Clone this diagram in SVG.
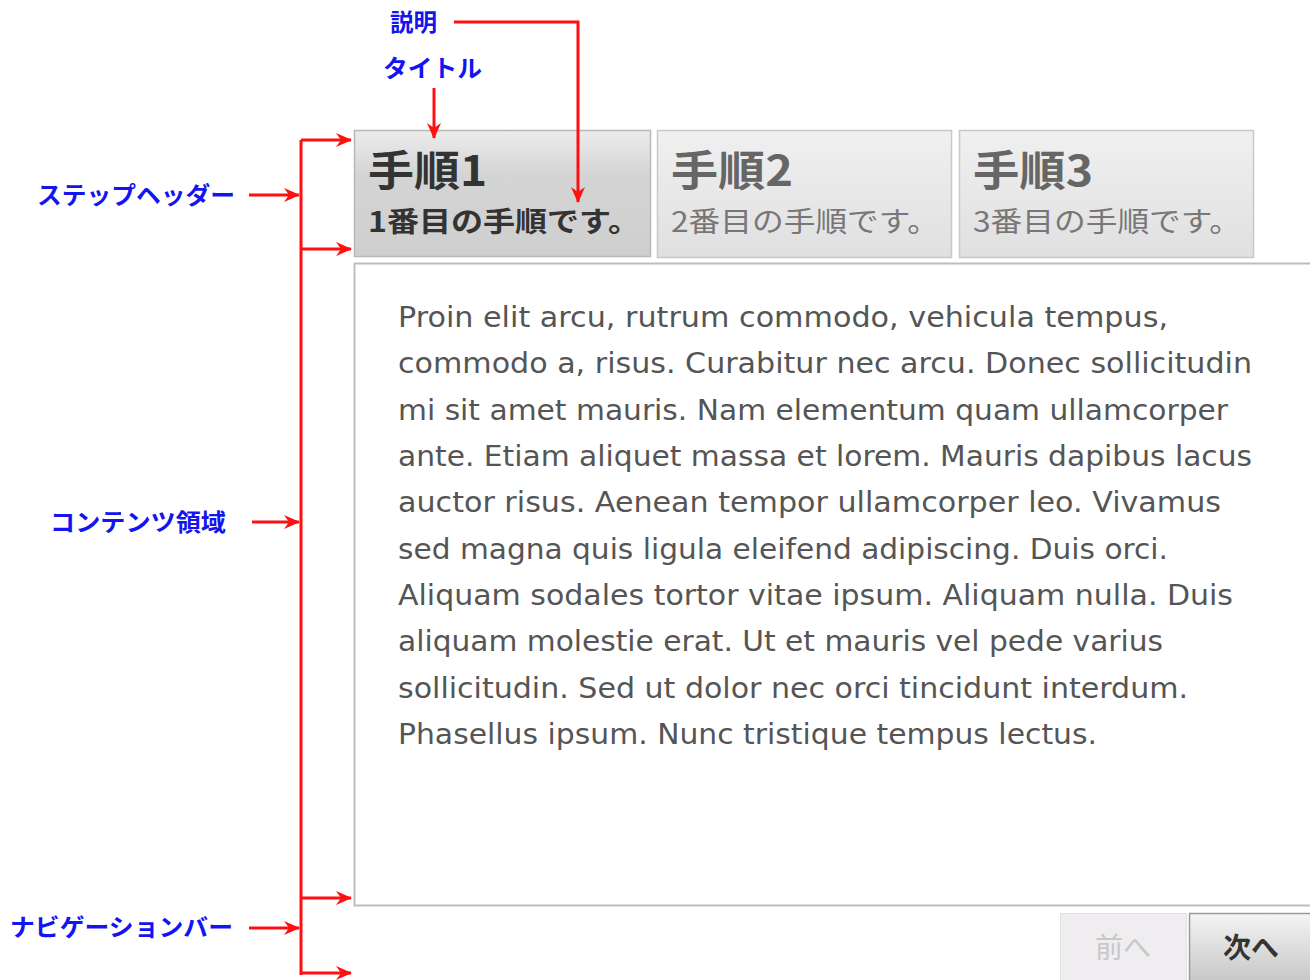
<svg xmlns="http://www.w3.org/2000/svg" width="1310" height="980" viewBox="0 0 1310 980">
<style>
.lbl{font-family:"Noto Sans CJK JP","Liberation Sans",sans-serif;font-weight:bold;fill:#1414f0;font-size:24px}
.con{stroke:#ff1010;stroke-width:3;fill:none}
.body{font-family:"DejaVu Sans","Liberation Sans",sans-serif;font-size:28px;fill:#555}
.tt{font-family:"Noto Sans CJK JP",sans-serif;font-weight:bold;font-size:42px}
.ts{font-family:"Noto Sans CJK JP",sans-serif;font-size:28px}
.btn{font-family:"Noto Sans CJK JP",sans-serif;font-size:28px;text-anchor:middle}
</style>
<defs>
<marker id="ah" viewBox="0 0 16 14" refX="15" refY="7" markerWidth="16" markerHeight="14" markerUnits="userSpaceOnUse" orient="auto">
<path d="M0,0 L16,7 L0,14 L5,7 Z" fill="#ff1010"/>
</marker>
<linearGradient id="g1" x1="0" y1="0" x2="0" y2="1"><stop offset="0" stop-color="#ececec"/><stop offset="0.35" stop-color="#d4d4d4"/><stop offset="1" stop-color="#cfcfcf"/></linearGradient>
<linearGradient id="g2" x1="0" y1="0" x2="0" y2="1"><stop offset="0" stop-color="#f0f0f0"/><stop offset="1" stop-color="#e0e0e0"/></linearGradient>
<linearGradient id="g3" x1="0" y1="0" x2="0" y2="1"><stop offset="0" stop-color="#f4f4f4"/><stop offset="1" stop-color="#c6c6c6"/></linearGradient>
</defs>

<g id="tab1">
<rect x="354.5" y="130.5" width="296" height="126" fill="url(#g1)" stroke="#b8b8b8" stroke-width="1.5"/>
<text x="368" y="186" class="tt" fill="#333" textLength="119" lengthAdjust="spacingAndGlyphs">手順1</text>
<text x="368" y="232" class="ts" fill="#333" font-weight="bold" textLength="272" lengthAdjust="spacingAndGlyphs">1番目の手順です。</text>
</g>
<g id="tab2">
<rect x="657.5" y="130.5" width="294" height="127" fill="url(#g2)" stroke="#c8c8c8" stroke-width="1.5"/>
<text x="671" y="186" class="tt" fill="#666" textLength="122" lengthAdjust="spacingAndGlyphs">手順2</text>
<text x="671" y="232" class="ts" fill="#777" textLength="268" lengthAdjust="spacingAndGlyphs">2番目の手順です。</text>
</g>
<g id="tab3">
<rect x="959.5" y="130.5" width="294" height="127" fill="url(#g2)" stroke="#c8c8c8" stroke-width="1.5"/>
<text x="973" y="186" class="tt" fill="#666" textLength="120" lengthAdjust="spacingAndGlyphs">手順3</text>
<text x="973" y="232" class="ts" fill="#777" textLength="268" lengthAdjust="spacingAndGlyphs">3番目の手順です。</text>
</g>

<g id="content">
<rect x="354.5" y="263.5" width="970" height="642" fill="#fff" stroke="#bdbdbd" stroke-width="2"/>
<g class="body">
<text x="398" y="327" textLength="770" lengthAdjust="spacingAndGlyphs">Proin elit arcu, rutrum commodo, vehicula tempus,</text>
<text x="398" y="373" textLength="854" lengthAdjust="spacingAndGlyphs">commodo a, risus. Curabitur nec arcu. Donec sollicitudin</text>
<text x="398" y="420" textLength="830" lengthAdjust="spacingAndGlyphs">mi sit amet mauris. Nam elementum quam ullamcorper</text>
<text x="398" y="466" textLength="854" lengthAdjust="spacingAndGlyphs">ante. Etiam aliquet massa et lorem. Mauris dapibus lacus</text>
<text x="398" y="512" textLength="823" lengthAdjust="spacingAndGlyphs">auctor risus. Aenean tempor ullamcorper leo. Vivamus</text>
<text x="398" y="559" textLength="770" lengthAdjust="spacingAndGlyphs">sed magna quis ligula eleifend adipiscing. Duis orci.</text>
<text x="398" y="605" textLength="835" lengthAdjust="spacingAndGlyphs">Aliquam sodales tortor vitae ipsum. Aliquam nulla. Duis</text>
<text x="398" y="651" textLength="765" lengthAdjust="spacingAndGlyphs">aliquam molestie erat. Ut et mauris vel pede varius</text>
<text x="398" y="698" textLength="790" lengthAdjust="spacingAndGlyphs">sollicitudin. Sed ut dolor nec orci tincidunt interdum.</text>
<text x="398" y="744" textLength="699" lengthAdjust="spacingAndGlyphs">Phasellus ipsum. Nunc tristique tempus lectus.</text>
</g>
</g>

<g id="btn-prev">
<rect x="1060.5" y="913.5" width="126" height="70" fill="#efedef" stroke="#e2e0e2"/>
<text x="1123" y="958" class="btn" fill="#c8c8c8">前へ</text>
</g>
<g id="btn-next">
<rect x="1189.5" y="913.5" width="130" height="70" fill="url(#g3)" stroke="#9a9a9a" stroke-width="1.5"/>
<text x="1251" y="958" class="btn" fill="#333" font-weight="bold">次へ</text>
</g>

<g id="label-desc"><text x="390" y="31" class="lbl" font-size="22" textLength="47" lengthAdjust="spacingAndGlyphs">説明</text></g>
<g id="label-title"><text x="383" y="77" class="lbl" textLength="99" lengthAdjust="spacingAndGlyphs">タイトル</text></g>
<g id="label-header"><text x="37" y="204" class="lbl" textLength="198" lengthAdjust="spacingAndGlyphs">ステップヘッダー</text></g>
<g id="label-content"><text x="50" y="531" class="lbl" textLength="176" lengthAdjust="spacingAndGlyphs">コンテンツ領域</text></g>
<g id="label-nav"><text x="10" y="936" class="lbl" font-weight="normal" textLength="223" lengthAdjust="spacingAndGlyphs">ナビゲーションバー</text></g>

<g id="connectors">
<path class="con" d="M454,22 H578 V202" marker-end="url(#ah)"/>
<path class="con" d="M434,88 V138" marker-end="url(#ah)"/>
<path class="con" d="M301,140 V975"/>
<path class="con" d="M301,140 H351" marker-end="url(#ah)"/>
<path class="con" d="M301,249 H351" marker-end="url(#ah)"/>
<path class="con" d="M301,898 H351" marker-end="url(#ah)"/>
<path class="con" d="M301,973 H351" marker-end="url(#ah)"/>
<path class="con" d="M249,195 H299" marker-end="url(#ah)"/>
<path class="con" d="M252,522 H299" marker-end="url(#ah)"/>
<path class="con" d="M249,928 H299" marker-end="url(#ah)"/>
</g>
</svg>
